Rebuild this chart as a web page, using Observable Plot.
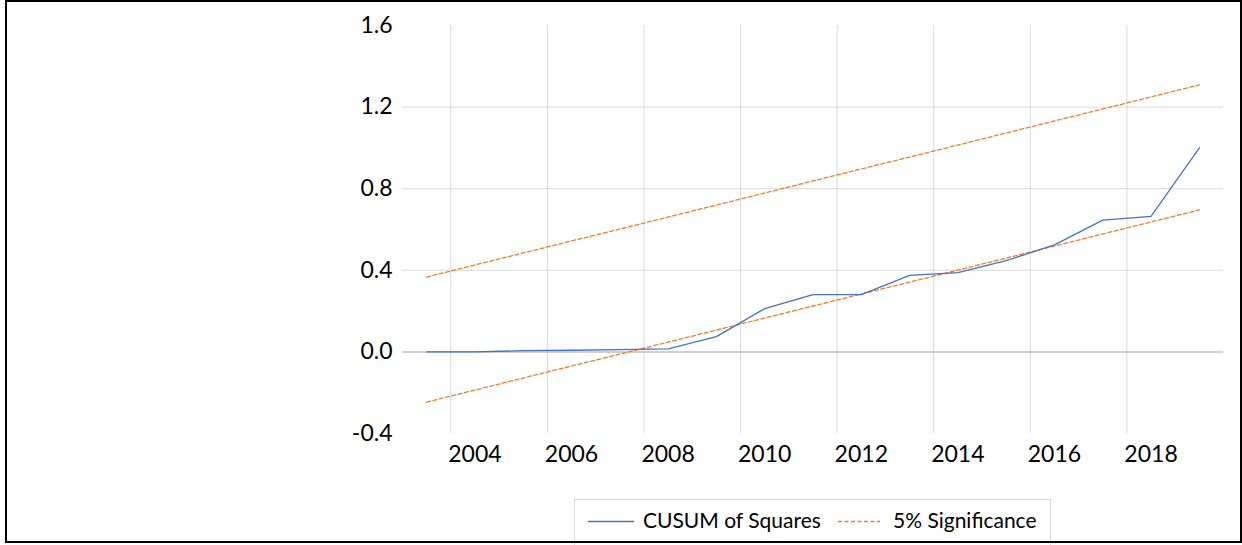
<!DOCTYPE html>
<html><head><meta charset="utf-8">
<script src="https://cdn.jsdelivr.net/npm/d3@7"></script>
<script src="https://cdn.jsdelivr.net/npm/@observablehq/plot@0.6"></script>
<style>
html,body{margin:0;padding:0;background:#fff;width:1242px;height:545px;overflow:hidden;font-family:Lato,sans-serif;}
#chart{position:absolute;left:0;top:0;}
#legend{position:absolute;left:574px;top:499px;width:475px;height:50px;border:1px solid #d9d9d9;background:#fff;}
#legend .sw{position:absolute;top:20px;}
#legend .lb{position:absolute;top:6px;font-size:21px;color:#000;white-space:nowrap;line-height:28px;}
#frame{position:absolute;left:5px;top:0;width:1233px;height:539px;border:2px solid #000;pointer-events:none;}
</style></head>
<body>
<div id="chart"></div>
<div id="legend"></div>
<div id="frame"></div>
<script>
const years = [2003,2004,2005,2006,2007,2008,2009,2010,2011,2012,2013,2014,2015,2016,2017,2018,2019];
const cusum = [0.000,0.000,0.006,0.008,0.011,0.015,0.075,0.212,0.281,0.281,0.375,0.389,0.447,0.525,0.646,0.664,1.000];
const upper = [0.367,0.426,0.485,0.544,0.602,0.661,0.720,0.779,0.838,0.897,0.955,1.014,1.073,1.132,1.191,1.250,1.309];
const lower = [-0.246,-0.187,-0.128,-0.069,-0.011,0.048,0.107,0.166,0.225,0.284,0.342,0.401,0.460,0.519,0.578,0.637,0.696];
const xTicks = [2004,2006,2008,2010,2012,2014,2016,2018];
const xGrid = [2003.5,2005.5,2007.5,2009.5,2011.5,2013.5,2015.5,2017.5];
const yTicks = [-0.4,0.0,0.4,0.8,1.2,1.6];
const yGrid = [0.4,0.8,1.2];
const seriesNames = ["CUSUM of Squares","5% Significance"];
const colors = ["#4472C4","#ED7D31"];

const rows = years.map((y,i)=>({year:y, cusum:cusum[i], upper:upper[i], lower:lower[i]}));

const chart = Plot.plot({
  width:1242, height:480,
  marginLeft:402, marginRight:19, marginTop:25, marginBottom:47,
  x:{domain:[2002.5,2019.5], label:null},
  y:{domain:[-0.4,1.6], label:null},
  style:{fontFamily:"Lato, sans-serif", fontSize:"23px", color:"#000", background:"transparent"},
  marks:[
    Plot.ruleX(xGrid,{x:d=>d, stroke:"#d9d9d9", strokeWidth:1}),
    Plot.ruleY(yGrid,{y:d=>d, stroke:"#d9d9d9", strokeWidth:1}),
    Plot.ruleY([0],{y:d=>d, stroke:"#bfbfbf", strokeWidth:1.5}),
    Plot.line(rows,{x:"year", y:"upper", stroke:colors[1], strokeWidth:1.3, strokeDasharray:"4,2.5"}),
    Plot.line(rows,{x:"year", y:"lower", stroke:colors[1], strokeWidth:1.3, strokeDasharray:"4,2.5"}),
    Plot.line(rows,{x:"year", y:"cusum", stroke:colors[0], strokeWidth:1.3}),
    Plot.axisX(xTicks,{tickSize:0, tickPadding:12, tickFormat:d=>String(d), fontSize:23}),
    Plot.axisY(yTicks,{tickSize:0, tickPadding:10, tickFormat:d=>d.toFixed(1), fontSize:23})
  ]
});
document.getElementById("chart").appendChild(chart);

const lg = document.getElementById("legend");
lg.innerHTML =
  `<svg class="sw" style="left:12px" width="48" height="3"><line x1="1" y1="1.5" x2="47" y2="1.5" stroke="${colors[0]}" stroke-width="1.3"/></svg>`+
  `<span class="lb" style="left:68px">${seriesNames[0]}</span>`+
  `<svg class="sw" style="left:262px" width="44" height="3"><line x1="1" y1="1.5" x2="43" y2="1.5" stroke="${colors[1]}" stroke-width="1.3" stroke-dasharray="4,2.5"/></svg>`+
  `<span class="lb" style="left:318px">${seriesNames[1]}</span>`;
</script>
</body></html>
